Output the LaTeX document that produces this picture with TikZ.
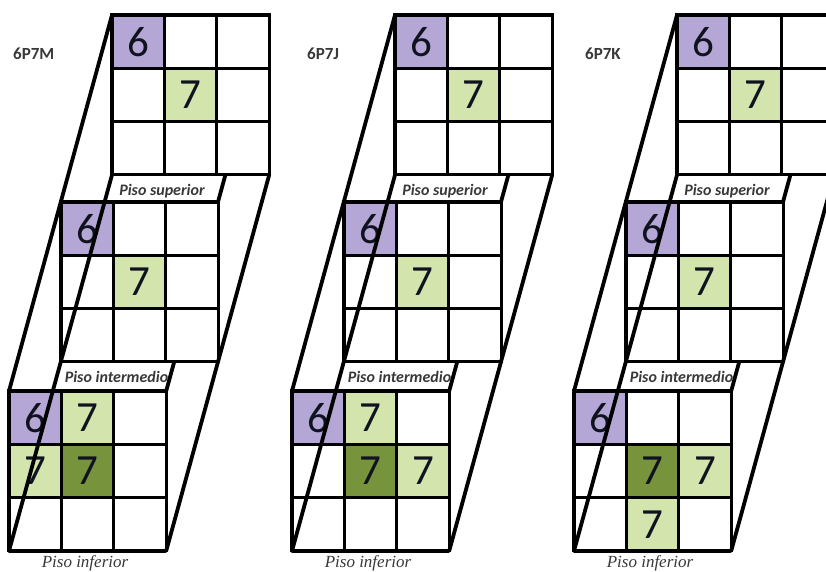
\documentclass[tikz,border=0pt]{standalone}
\usepackage{fontspec}
\setmainfont{Carlito}
\newfontfamily\timesit{Liberation Serif}
\pgfdeclarelayer{back}
\pgfsetlayers{back,main}
\definecolor{lilac}{HTML}{B4A7D6}
\definecolor{lgreen}{HTML}{D3E4AC}
\definecolor{dgreen}{HTML}{77933C}
\definecolor{labgray}{HTML}{383838}
\definecolor{digit}{HTML}{10131F}
\begin{document}
\begin{tikzpicture}[x=1pt,y=-1pt,
  cell/.style={draw=black,line width=3.1pt,fill=white,minimum width=52.4pt,minimum height=53.3pt,inner sep=0pt,outer sep=0pt,font=\fontsize{43}{43}\selectfont,text=digit},
  slant/.style={line width=3.8pt,line cap=round},
  floorlab/.style={font=\fontsize{16}{16}\selectfont\bfseries\itshape,text=labgray,inner sep=0pt},
  baselab/.style={font=\timesit\itshape\fontsize{17}{17}\selectfont,text=labgray,inner sep=0pt},
  titlelab/.style={font=\fontsize{17}{17}\selectfont\bfseries,text=labgray,inner sep=0pt,anchor=west}]
\useasboundingbox (0,0) rectangle (826,571);
\clip (0,0) rectangle (826,571);
% white grids
\foreach \colid/\ox in {p/0,q/283,r/565}{
  \foreach \lev/\gx/\gy in {T/112/15,M/61/202,B/9/391}{
    \foreach \rr in {1,2,3}{
      \foreach \kk in {1,2,3}{
        \node[cell] (\colid\lev\rr\kk) at ({\ox+\gx+(\kk-0.5)*52.4},{\gy+(\rr-0.5)*53.3}) {};
      }
    }
  }
}
% coloured cells, upper and middle floors
\foreach \colid in {p,q,r}{
  \foreach \lev in {T,M}{
    \node[cell,fill=lilac] (\colid\lev six) at (\colid\lev11.center) {6};
    \node[cell,fill=lgreen] (\colid\lev sev) at (\colid\lev22.center) {7};
  }
}
% lower floors
\node[cell,fill=lilac]  (pBsix) at (pB11.center) {6};
\node[cell,fill=lgreen] (pBa)   at (pB12.center) {7};
\node[cell,fill=lgreen] (pBb)   at (pB21.center) {7};
\node[cell,fill=dgreen] (pBc)   at (pB22.center) {7};
\node[cell,fill=lilac]  (qBsix) at (qB11.center) {6};
\node[cell,fill=lgreen] (qBa)   at (qB12.center) {7};
\node[cell,fill=dgreen] (qBc)   at (qB22.center) {7};
\node[cell,fill=lgreen] (qBb)   at (qB23.center) {7};
\node[cell,fill=lilac]  (rBsix) at (rB11.center) {6};
\node[cell,fill=dgreen] (rBc)   at (rB22.center) {7};
\node[cell,fill=lgreen] (rBa)   at (rB23.center) {7};
\node[cell,fill=lgreen] (rBb)   at (rB32.center) {7};
% prism edges
\foreach \colid in {p,q,r}{
  \begin{pgfonlayer}{back}
    \draw[slant] (\colid T13.north east) -- (\colid B13.north east);
  \end{pgfonlayer}
  \draw[slant] (\colid T11.north west) -- (\colid B11.north west);
  \draw[slant] (\colid T31.south west) -- (\colid B31.south west);
  \draw[slant] (\colid T33.south east) -- (\colid B33.south east);
  \draw[line width=4.8pt] (\colid B31.south west) -- (\colid B33.south east);
}
% labels
\foreach \colid/\ox/\tx/\ttl in {p/0/13/6P7M,q/283/307/6P7J,r/565/585/6P7K}{
  \node[titlelab] (\colid title) at (\tx,54) {\ttl};
  \node[floorlab] (\colid sup) at ({\ox+162},191) {Piso superior};
  \node[floorlab] (\colid int) at ({\ox+116.5},376.5) {Piso intermedio};
  \node[baselab] (\colid inf) at ({\ox+85},563) {Piso inferior};
}
\end{tikzpicture}
\end{document}
